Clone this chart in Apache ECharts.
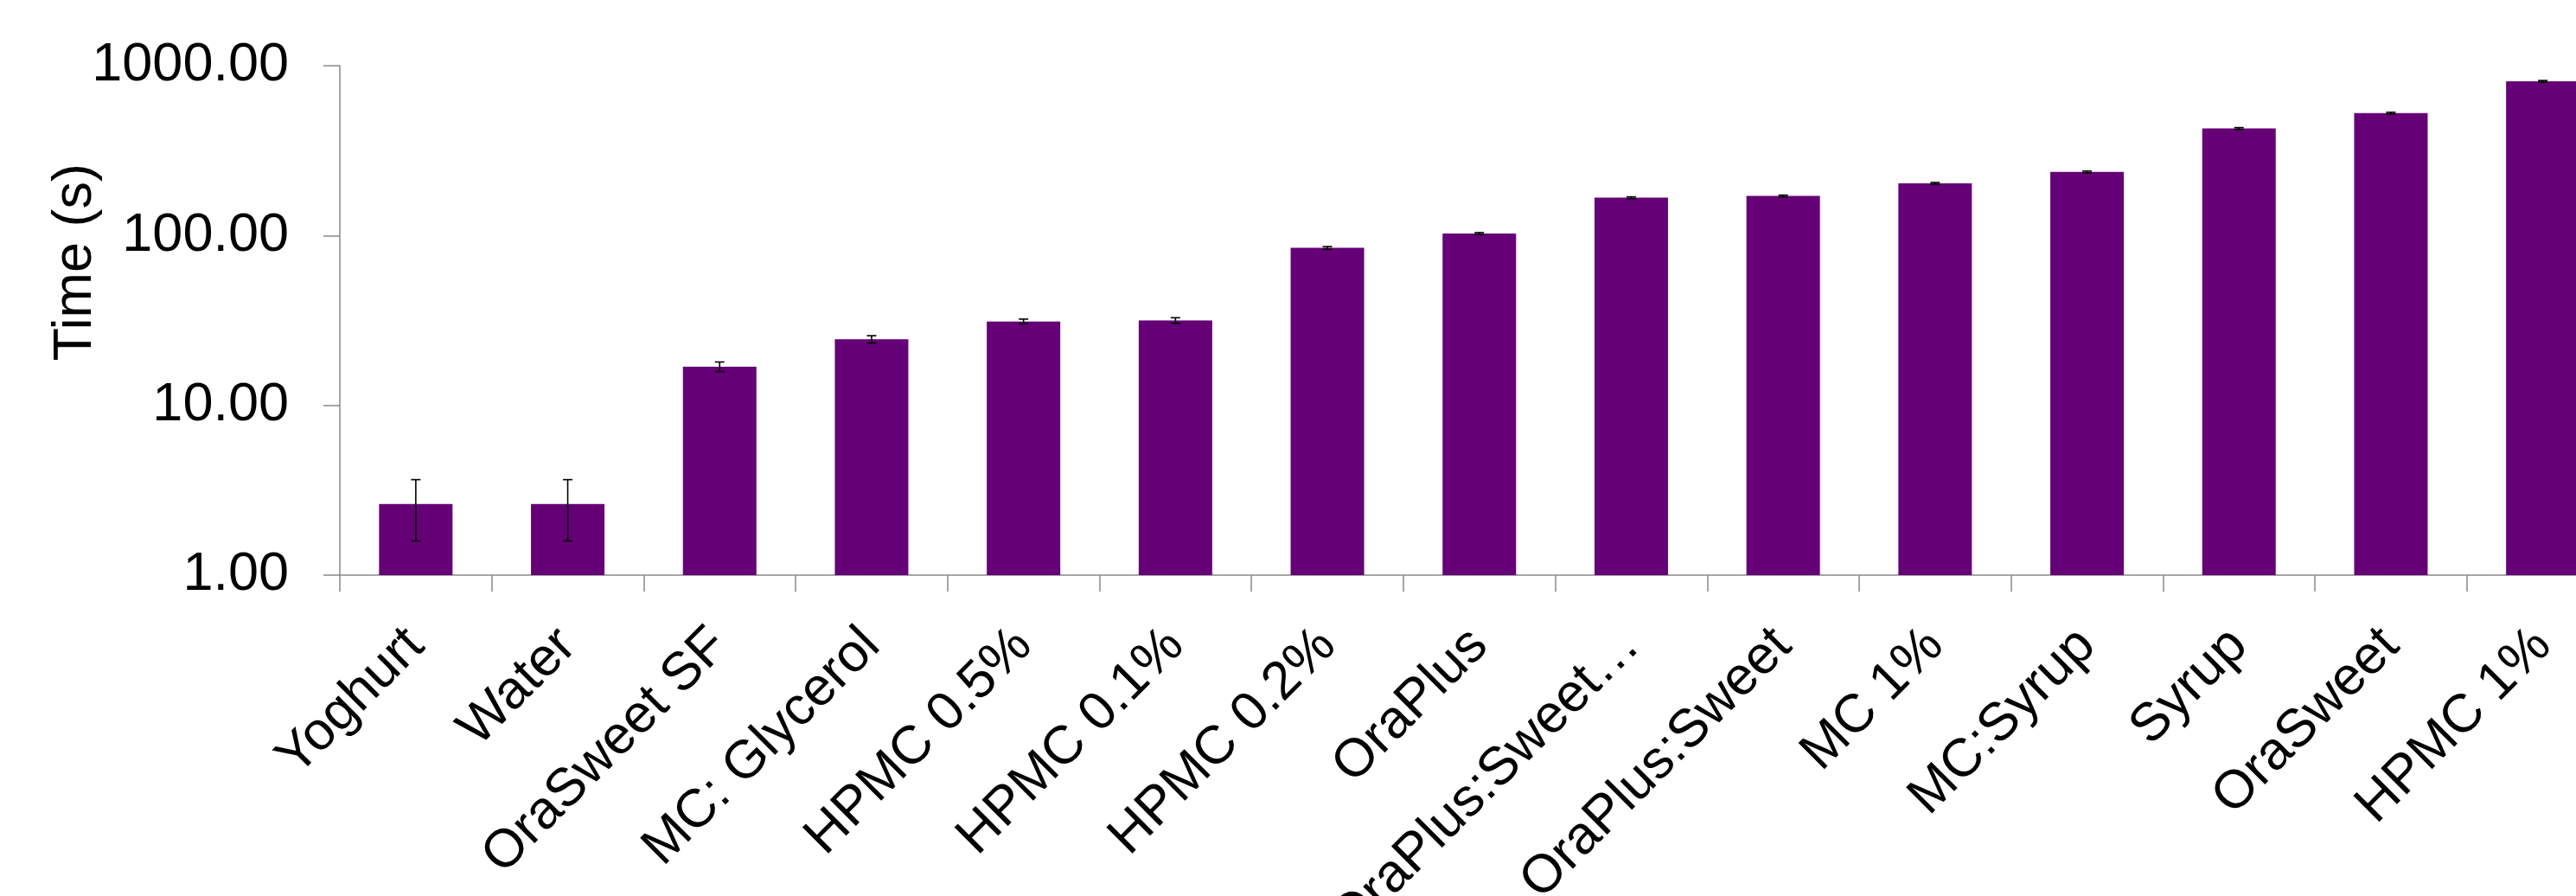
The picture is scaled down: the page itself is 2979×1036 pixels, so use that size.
<!DOCTYPE html>
<html>
<head>
<meta charset="utf-8">
<script src="https://cdn.jsdelivr.net/npm/echarts@6/dist/echarts.min.js"></script>
<style>
html,body{margin:0;padding:0;background:#fff;}
#chart{width:2979px;height:1036px;}
</style>
</head>
<body>
<div id="chart"></div>
<script>
const categories = ['Yoghurt','Water','OraSweet SF','MC: Glycerol','HPMC 0.5%','HPMC 0.1%','HPMC 0.2%','OraPlus','OraPlus:Sweet…','OraPlus:Sweet','MC 1%','MC:Syrup','Syrup','OraSweet','HPMC 1%'];
const times = [2.62, 2.62, 16.9, 24.5, 31.2, 31.6, 84.6, 102.8, 167, 171, 203, 237, 427, 526, 809];
const errors = [1.03, 1.03, 1.1, 1.2, 1.0, 1.2, 1.5, 1.3, 2.0, 2.0, 2.4, 2.8, 5, 6, 9.5];
const yTicks = [1, 10, 100, 1000];

const FONT = 'Liberation Sans, Arial, sans-serif';
const AXIS_COLOR = '#898989';

const chart = echarts.init(document.getElementById('chart'));
chart.setOption({
  backgroundColor: '#ffffff',
  animation: false,
  grid: { left: 393, top: 76, bottom: 371, right: -49.5, containLabel: false, outerBoundsMode: 'none' },
  graphic: [{
    type: 'text',
    left: 88 - 32, top: 305 - 116,
    rotation: Math.PI / 2,
    style: { text: 'Time (s)', fontSize: 63, fontFamily: FONT, fill: '#000' }
  }],
  xAxis: {
    type: 'category',
    data: categories,
    axisLine: { show: true, lineStyle: { color: AXIS_COLOR, width: 1.5 } },
    axisTick: { show: true, length: 19, lineStyle: { color: AXIS_COLOR, width: 1.5 } },
    axisLabel: { interval: 0, rotate: 45, margin: 72, fontSize: 62, fontFamily: FONT, color: '#000' },
    splitLine: { show: false }
  },
  yAxis: {
    type: 'log',
    logBase: 10,
    min: yTicks[0],
    max: yTicks[yTicks.length - 1],
    axisLine: { show: true, lineStyle: { color: AXIS_COLOR, width: 1.5 } },
    axisTick: { show: true, length: 19, lineStyle: { color: AXIS_COLOR, width: 1.5 } },
    axisLabel: { margin: 59, fontSize: 63, fontFamily: FONT, color: '#000', formatter: v => Number(v).toFixed(2) },
    splitLine: { show: false },
    minorTick: { show: false }
  },
  series: [
    {
      type: 'bar',
      data: times,
      barWidth: 85,
      itemStyle: { color: '#660077' },
      z: 2
    },
    {
      type: 'custom',
      z: 3,
      data: categories.map((c, i) => [i, times[i], errors[i]]),
      renderItem: function (params, api) {
        const x = api.value(0), v = api.value(1), e = api.value(2);
        const hi = api.coord([x, v + e]);
        const lo = api.coord([x, v - e]);
        const half = 5.5;
        const st = { stroke: '#000', lineWidth: 1.6 };
        return {
          type: 'group',
          children: [
            { type: 'line', shape: { x1: hi[0], y1: hi[1], x2: lo[0], y2: lo[1] }, style: st },
            { type: 'line', shape: { x1: hi[0] - half, y1: hi[1], x2: hi[0] + half, y2: hi[1] }, style: st },
            { type: 'line', shape: { x1: lo[0] - half, y1: lo[1], x2: lo[0] + half, y2: lo[1] }, style: st }
          ]
        };
      }
    }
  ]
});
</script>
</body>
</html>
